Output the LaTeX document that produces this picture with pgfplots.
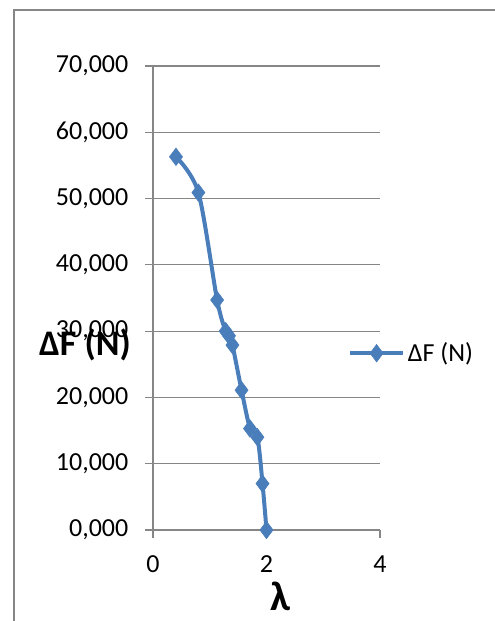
\documentclass[border=0pt]{standalone}
\usepackage{pgfplots}
\pgfplotsset{compat=1.18}
\usepackage{fontspec}
\setmainfont{Carlito}
\definecolor{exblue}{HTML}{4A7EBB}
\definecolor{exgrid}{HTML}{868686}
\begin{document}
\begin{tikzpicture}[x=1pt,y=1pt]
\useasboundingbox (0,0) rectangle (370.5,465.75);
\draw[exgrid, line width=1.2pt] (10.5,-5) -- (10.5,458.25) -- (380,458.25);
\begin{axis}[
  at={(114.75pt,68.25pt)}, anchor=south west,
  scale only axis, width=170.25pt, height=348pt,
  xmin=0, xmax=4, ymin=0, ymax=70,
  xtick={0,2,4}, ytick={0,10,...,70},
  font=\fontsize{19.5}{22}\selectfont,
  /pgf/number format/assume math mode=true,
  yticklabel style={/pgf/number format/fixed, /pgf/number format/fixed zerofill, /pgf/number format/precision=3, /pgf/number format/use comma, xshift=-9pt},
  xticklabel style={/pgf/number format/fixed, /pgf/number format/precision=0, yshift=-10pt},
  ymajorgrids, grid style={exgrid, line width=0.8pt},
  axis line style={exgrid, line width=0.8pt},
  tick style={exgrid, line width=0.8pt},
  tick align=outside, major tick length=6pt,
  axis x line*=bottom, axis y line*=left,
  x axis line style={-}, y axis line style={-},
  xtick pos=bottom, ytick pos=left,
  xlabel={\fontsize{31}{34}\selectfont\bfseries λ},
  xlabel style={at={(rel axis cs:0.564,-0.142)}, anchor=center},
  ylabel={\fontsize{27}{30}\selectfont\bfseries ΔF (N)},
  ylabel style={at={(rel axis cs:-0.30,0.399)}, anchor=center, rotate=-90},
  legend style={at={(rel axis cs:0.84,0.381)}, anchor=west, draw=none, fill=none, font=\fontsize{19.5}{22}\selectfont},
  legend cell align=left,
  legend image code/.code={\draw[mark repeat=2, mark phase=2, #1] plot coordinates {(0pt,0pt) (20pt,0pt) (40pt,0pt)};},
  clip=false,
]
\addplot[exblue, line width=3pt, smooth, tension=0.5, mark=diamond*, mark size=6.5pt, mark options={fill=exblue, draw=exblue, line width=0.5pt}]
coordinates {
(0.405,56.3) (0.80,50.9) (1.13,34.7) (1.28,30.0) (1.34,29.3) (1.40,27.9) (1.56,21.1) (1.71,15.3) (1.84,14.0) (1.93,7.0) (2.00,0.0)
};
\addlegendentry{ΔF (N)}
\end{axis}
\end{tikzpicture}
\end{document}
